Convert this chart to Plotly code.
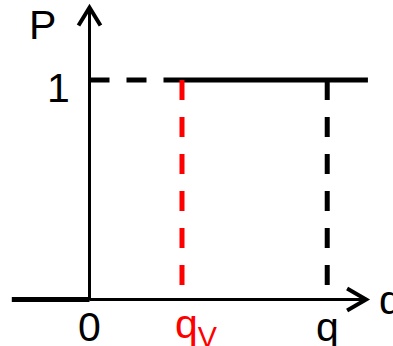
import plotly.graph_objects as go

# Cumulative probability P(q) of a step distribution
q_left = [-0.84, 0.0]          # P = 0 for q < 0
p_left = [0, 0]
q_right = [1.0, 3.01]          # P = 1 beyond q_V (solid)
p_right = [1, 1]
q_dash = [0.0, 1.0]            # P = 1 level guide between 0 and q_V
p_dash = [1, 1]

q_v = 1.0                      # threshold q_V
q_val = 2.57                   # chosen q
tick_vals = [0.0, q_v, q_val]
tick_text = ["0", "q<sub>V</sub>", "q"]
tick_colors = ["black", "red", "black"]
tick_shift = [0, 14, 0]        # subscripted label is centred on its base letter
p_tick = 1

# axis extents
x_axis_end = 2.99
y_axis_end = 1.33

FONT = "Liberation Sans, Arial, sans-serif"
fig = go.Figure()

# P = 0 for negative q
fig.add_trace(go.Scatter(x=q_left, y=p_left, mode="lines",
                         line=dict(color="black", width=5), hoverinfo="skip"))
# dashed guide at P = 1
fig.add_trace(go.Scatter(x=q_dash, y=p_dash, mode="lines",
                         line=dict(color="black", width=5, dash="20px,17px"), hoverinfo="skip"))
# P = 1 plateau
fig.add_trace(go.Scatter(x=q_right, y=p_right, mode="lines",
                         line=dict(color="black", width=5), hoverinfo="skip"))
# vertical markers at q_V and q
fig.add_trace(go.Scatter(x=[q_v, q_v], y=[1, 0], mode="lines",
                         line=dict(color="red", width=5, dash="20px,17px"), hoverinfo="skip"))
fig.add_trace(go.Scatter(x=[q_val, q_val], y=[1, 0], mode="lines",
                         line=dict(color="black", width=5, dash="20px,17px"), hoverinfo="skip"))

# axes with open arrowheads
fig.add_trace(go.Scatter(x=[0, 0], y=[-0.003, y_axis_end - 0.01], mode="lines",
                         line=dict(color="black", width=3), hoverinfo="skip"))
fig.add_trace(go.Scatter(x=[0, x_axis_end - 0.02], y=[0, 0], mode="lines",
                         line=dict(color="black", width=3), hoverinfo="skip"))
fig.add_trace(go.Scatter(x=[-0.119, 0, 0.119], y=[y_axis_end - 0.082, y_axis_end, y_axis_end - 0.082],
                         mode="lines", line=dict(color="black", width=4), hoverinfo="skip"))
fig.add_trace(go.Scatter(x=[x_axis_end - 0.205, x_axis_end, x_axis_end - 0.205], y=[0.05, 0, -0.05],
                         mode="lines", line=dict(color="black", width=4), hoverinfo="skip"))

# labels
for xv, txt, col, sh in zip(tick_vals, tick_text, tick_colors, tick_shift):
    fig.add_annotation(x=xv, y=-0.125, text=txt, showarrow=False, xshift=sh,
                       font=dict(family=FONT, size=41, color=col),
                       xanchor="center", yanchor="middle")
fig.add_annotation(x=-0.33, y=p_tick - 0.037, text="1", showarrow=False,
                   font=dict(family=FONT, size=41, color="black"), xanchor="center", yanchor="middle")
fig.add_annotation(x=-0.503, y=1.251, text="P", showarrow=False,
                   font=dict(family=FONT, size=41, color="black"), xanchor="center", yanchor="middle")
fig.add_annotation(x=3.25, y=0.0, text="q", showarrow=False,
                   font=dict(family=FONT, size=41, color="black"), xanchor="center", yanchor="middle")

fig.update_layout(
    width=393, height=346,
    margin=dict(l=0, r=0, t=0, b=0),
    paper_bgcolor="white", plot_bgcolor="white",
    showlegend=False,
    xaxis=dict(range=[-89.5 / 92.5, (393 - 89.5) / 92.5], visible=False, fixedrange=True),
    yaxis=dict(range=[(299.5 - 346) / 219.5, 299.5 / 219.5], visible=False, fixedrange=True),
)

fig.write_html("out.html")
